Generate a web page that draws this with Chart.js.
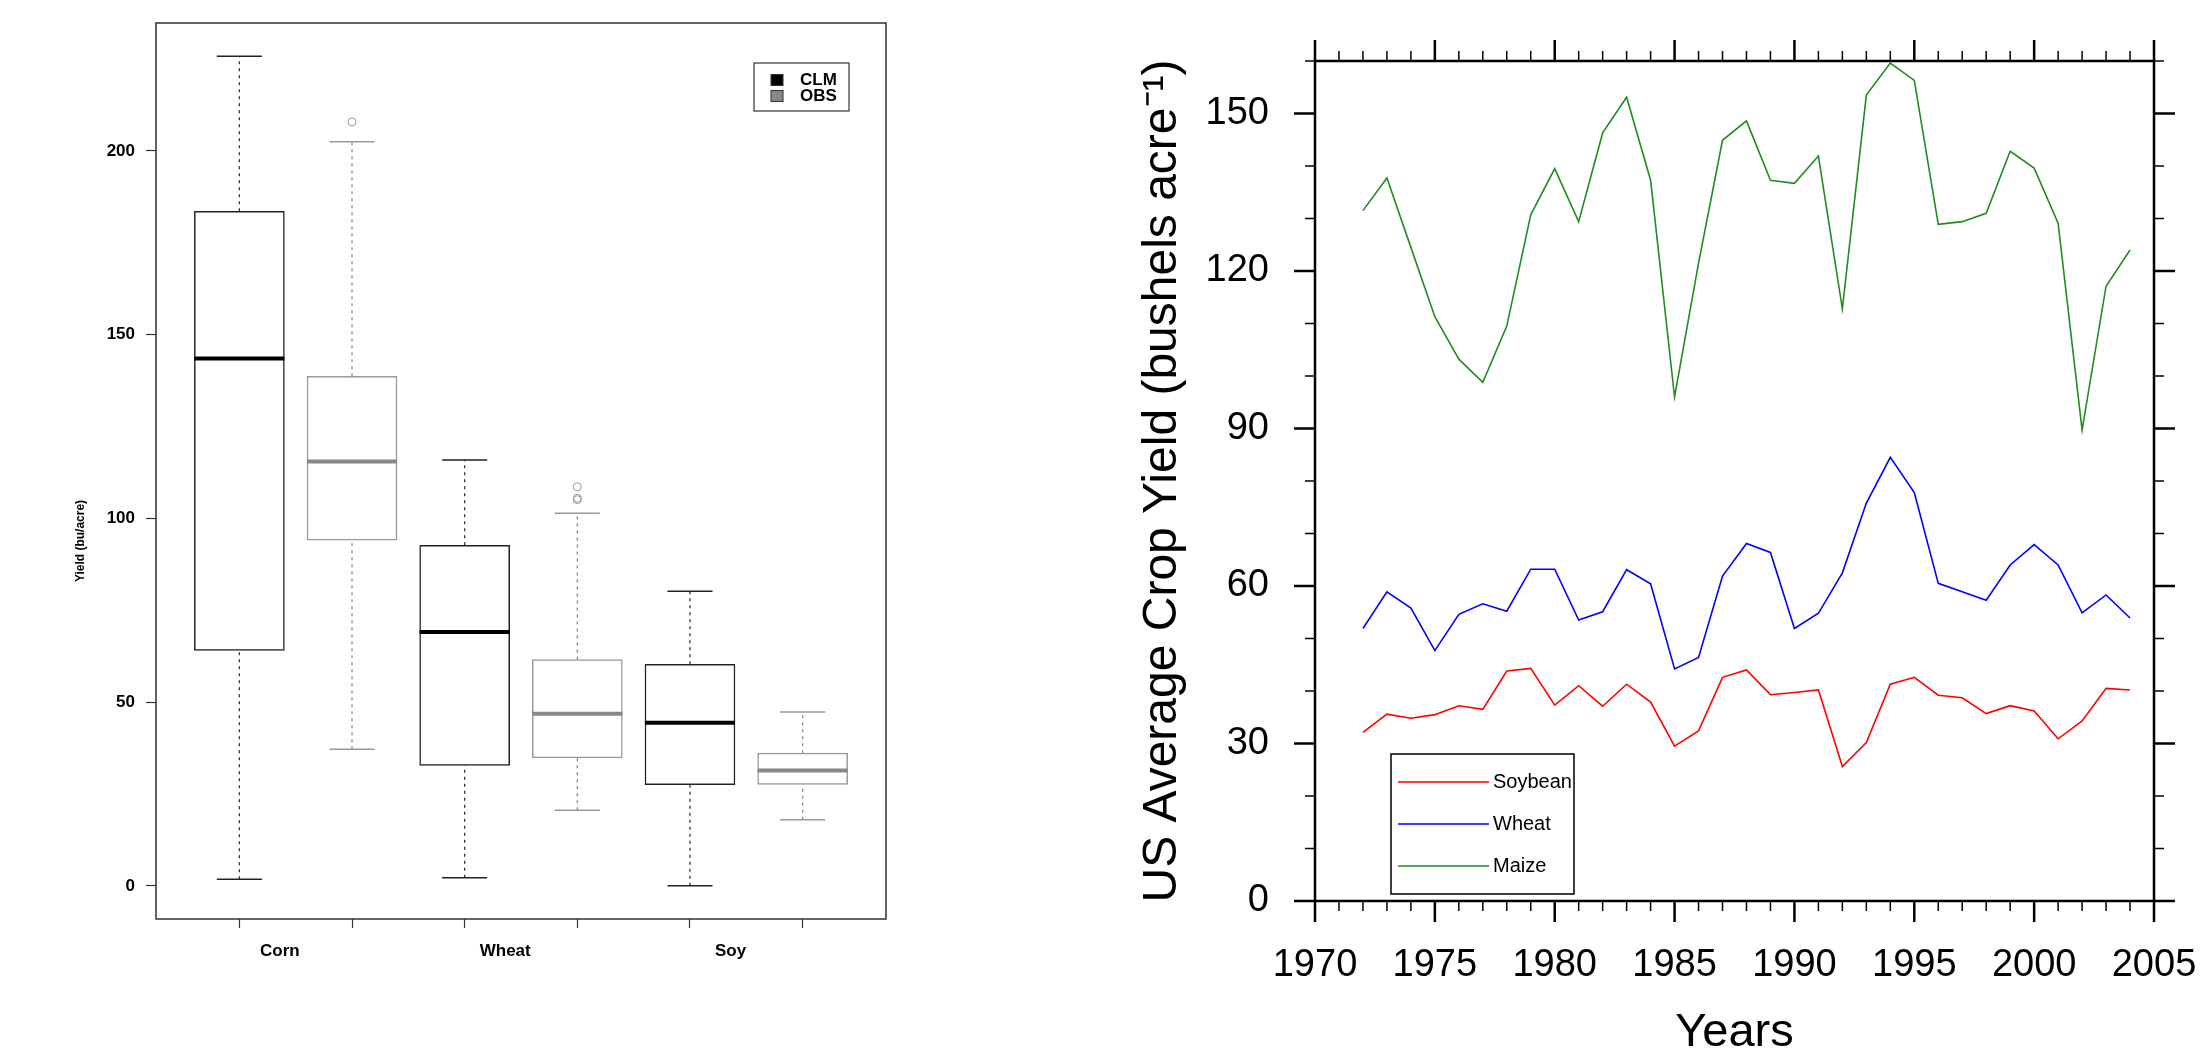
<!DOCTYPE html>
<html>
<head>
<meta charset="utf-8">
<title>Crop yield</title>
<script src="https://cdn.jsdelivr.net/npm/chart.js@4.4.1/dist/chart.umd.min.js"></script>
<style>
  html, body { margin: 0; padding: 0; background: #fff; }
  #page { position: relative; width: 2203px; height: 1053px; overflow: hidden; }
  canvas { position: absolute; top: 0; }
  #BoxChart { left: 0; }
  #LineChart { left: 1100px; }
</style>
</head>
<body>
<div id="page">
  <canvas id="BoxChart" width="1100" height="1053"></canvas>
  <canvas id="LineChart" width="1103" height="1053"></canvas>
</div>
<script>
// box plot, CLM vs OBS (bu/acre)
var crops = ["Corn", "Wheat", "Soy"];
var clmMin = [1.8, 2.2, 0.0];
var clmQ1 = [64.1, 32.8, 27.5];
var clmMedian = [143.5, 69.1, 44.4];
var clmQ3 = [183.6, 92.7, 60.3];
var clmMax = [225.8, 115.9, 80.2];
var obsMin = [37.2, 20.6, 18.0];
var obsQ1 = [94.1, 34.8, 27.6];
var obsMedian = [115.5, 46.8, 31.4];
var obsQ3 = [138.7, 61.6, 36.1];
var obsMax = [202.5, 101.4, 47.3];
var obsOutliers = [[207.9], [105.1, 105.5, 108.6], []];
var boxTicks = [0, 50, 100, 150, 200];

// US average crop yield (bushels/acre)
var years = [1972, 1973, 1974, 1975, 1976, 1977, 1978, 1979, 1980, 1981, 1982,
             1983, 1984, 1985, 1986, 1987, 1988, 1989, 1990, 1991, 1992, 1993,
             1994, 1995, 1996, 1997, 1998, 1999, 2000, 2001, 2002, 2003, 2004];
var soybean = [32.1, 35.6, 34.8, 35.5, 37.2, 36.5, 43.8, 44.3, 37.3, 41.0, 37.1,
               41.3, 37.9, 29.5, 32.4, 42.6, 44.0, 39.3, 39.7, 40.2, 25.6, 30.2,
               41.3, 42.6, 39.2, 38.7, 35.7, 37.2, 36.2, 30.9, 34.3, 40.5, 40.2];
var wheat = [51.9, 58.9, 55.8, 47.7, 54.6, 56.6, 55.2, 63.2, 63.2, 53.5, 55.1,
             63.1, 60.4, 44.2, 46.4, 61.9, 68.1, 66.4, 51.9, 54.8, 62.5, 75.8,
             84.5, 77.8, 60.5, 58.9, 57.3, 64.0, 67.9, 64.0, 54.9, 58.3, 53.9];
var maize = [131.5, 137.7, 124.5, 111.3, 103.2, 98.8, 109.5, 130.7, 139.5, 129.4, 146.3,
             153.1, 137.3, 96.0, 121.5, 144.9, 148.6, 137.3, 136.7, 141.9, 112.8, 153.5,
             159.6, 156.3, 128.9, 129.4, 131.0, 142.8, 139.6, 129.1, 89.7, 117.1, 124.0];
var yearTicks = [1970, 1975, 1980, 1985, 1990, 1995, 2000, 2005];
var yieldTicks = [0, 30, 60, 90, 120, 150];

Chart.defaults.font.family = "'Liberation Sans', Arial, Helvetica, sans-serif";
Chart.defaults.color = "#000";
Chart.defaults.animation = false;

// ---------- left: boxplot ----------
function groupX(i, k) { return 2 * i + 1 + k; }   // k: 0 = CLM, 1 = OBS
var labelAt = crops.map(function (c, i) { return groupX(i, 0) + 0.36; });

function boxes(k, lo, hi) {
  return crops.map(function (c, i) { return { x: groupX(i, k), y: [lo[i], hi[i]] }; });
}
function hSegs(k, vals, half) {
  var pts = [];
  crops.forEach(function (c, i) {
    var x = groupX(i, k);
    pts.push({ x: x - half, y: vals[i] }, { x: x + half, y: vals[i] }, { x: x, y: null });
  });
  return pts;
}
function vSegs(k, lo, hi) {
  var pts = [];
  crops.forEach(function (c, i) {
    var x = groupX(i, k);
    pts.push({ x: x, y: lo[i] }, { x: x, y: hi[i] }, { x: x, y: null });
  });
  return pts;
}
function seg(data, color, width, dash, order) {
  return { type: 'line', data: data, borderColor: color, borderWidth: width,
           borderDash: dash, pointRadius: 0, fill: false, spanGaps: false, order: order };
}

var allBox = clmMin.concat(clmMax, obsMin, obsMax, [].concat.apply([], obsOutliers));
var yLo = Math.min.apply(null, allBox), yHi = Math.max.apply(null, allBox);
var yPad = (yHi - yLo) * 0.04;

var outlierPts = [];
obsOutliers.forEach(function (list, i) {
  list.forEach(function (v) { outlierPts.push({ x: groupX(i, 1), y: v }); });
});

var boxFrame = {
  id: 'boxFrame',
  afterDraw: function (chart) {
    var ctx = chart.ctx, a = chart.chartArea;
    ctx.save();
    ctx.strokeStyle = '#333';
    ctx.lineWidth = 1.5;
    ctx.strokeRect(a.left, a.top, a.width, a.height);

    // y title
    ctx.save();
    ctx.translate(a.left - 75, a.top + a.height / 2 + 70);
    ctx.rotate(-Math.PI / 2);
    ctx.fillStyle = '#000';
    ctx.font = "bold 12px 'Liberation Sans', Arial, sans-serif";
    ctx.textAlign = 'center';
    ctx.textBaseline = 'middle';
    ctx.fillText('Yield (bu/acre)', 0, 0);
    ctx.restore();

    // legend
    var lx = a.right - 132, ly = a.top + 40;
    ctx.lineWidth = 1.2;
    ctx.strokeStyle = '#333';
    ctx.strokeRect(lx, ly, 95, 48);
    var items = [chart.data.datasets[0], chart.data.datasets[1]];
    ctx.font = "bold 17px 'Liberation Sans', Arial, sans-serif";
    ctx.textAlign = 'left';
    ctx.textBaseline = 'middle';
    items.forEach(function (ds, j) {
      var cy = ly + 17 + j * 16;
      ctx.fillStyle = ds.legendFill;
      ctx.fillRect(lx + 17, cy - 5.5, 12, 11);
      ctx.strokeStyle = '#333';
      ctx.lineWidth = 1;
      ctx.strokeRect(lx + 17, cy - 5.5, 12, 11);
      ctx.fillStyle = '#000';
      ctx.fillText(ds.label, lx + 46, cy);
    });
    ctx.restore();
  }
};

new Chart(document.getElementById('BoxChart'), {
  type: 'bar',
  data: {
    datasets: [
      { label: 'CLM', legendFill: '#000', data: boxes(0, clmQ1, clmQ3), backgroundColor: '#fff',
        borderColor: '#222', borderWidth: 1.5, borderSkipped: false, grouped: false,
        barThickness: 90, order: 10 },
      { label: 'OBS', legendFill: '#888', data: boxes(1, obsQ1, obsQ3), backgroundColor: '#fff',
        borderColor: '#999', borderWidth: 1.5, borderSkipped: false, grouped: false,
        barThickness: 90, order: 10 },
      seg(vSegs(0, clmQ3, clmMax).concat(vSegs(0, clmMin, clmQ1)), '#333', 1.3, [3, 4], 6),
      seg(vSegs(1, obsQ3, obsMax).concat(vSegs(1, obsMin, obsQ1)), '#888', 1.3, [3, 4], 6),
      seg(hSegs(0, clmMax, 0.2).concat(hSegs(0, clmMin, 0.2)), '#222', 1.5, [], 5),
      seg(hSegs(1, obsMax, 0.2).concat(hSegs(1, obsMin, 0.2)), '#999', 1.5, [], 5),
      seg(hSegs(0, clmMedian, 0.4), '#000', 4, [], 2),
      seg(hSegs(1, obsMedian, 0.4), '#888', 4, [], 2),
      { type: 'line', data: outlierPts, showLine: false, pointStyle: 'circle', pointRadius: 4,
        pointBorderColor: '#999', pointBackgroundColor: 'rgba(0,0,0,0)', pointBorderWidth: 1, order: 1 }
    ]
  },
  options: {
    responsive: false,
    devicePixelRatio: 1,
    layout: { padding: { left: 0, right: 214, top: 23, bottom: 0 } },
    scales: {
      x: {
        type: 'linear', min: 0.26, max: 6.74, offset: false,
        afterBuildTicks: function (s) {
          var v = [];
          crops.forEach(function (c, i) { v.push(groupX(i, 0), labelAt[i], groupX(i, 1)); });
          s.ticks = v.map(function (t) { return { value: t }; });
        },
        afterFit: function (s) { s.height = 134; },
        grid: {
          drawOnChartArea: false, offset: false, tickLength: 9, tickWidth: 1.2,
          tickColor: function (c) {
            return c.tick && labelAt.indexOf(c.tick.value) >= 0 ? 'rgba(0,0,0,0)' : '#333';
          }
        },
        border: { display: false },
        ticks: {
          autoSkip: false, maxRotation: 0, padding: 13,
          font: { size: 17, weight: 'bold' },
          callback: function (v) { var j = labelAt.indexOf(v); return j >= 0 ? crops[j] : ''; }
        }
      },
      y: {
        min: yLo - yPad, max: yHi + yPad,
        afterBuildTicks: function (s) { s.ticks = boxTicks.map(function (v) { return { value: v }; }); },
        afterFit: function (s) { s.width = 156; },
        grid: { drawOnChartArea: false, tickLength: 10, tickWidth: 1.2, tickColor: '#333' },
        border: { display: false },
        ticks: { padding: 11, font: { size: 17, weight: 'bold' } }
      }
    },
    plugins: { legend: { display: false }, tooltip: { enabled: false } }
  },
  plugins: [boxFrame]
});

// ---------- right: yield time series ----------
function pairs(vals) {
  return years.map(function (y, i) { return { x: y, y: vals[i] }; });
}

var ncarFrame = {
  id: 'ncarFrame',
  afterDraw: function (chart) {
    var ctx = chart.ctx, a = chart.chartArea;
    var xs = chart.scales.x, ys = chart.scales.y;
    function line(x1, y1, x2, y2) { ctx.beginPath(); ctx.moveTo(x1, y1); ctx.lineTo(x2, y2); ctx.stroke(); }
    ctx.save();
    ctx.strokeStyle = '#000';
    for (var yr = xs.min; yr <= xs.max; yr++) {
      var bigX = yearTicks.indexOf(yr) >= 0;
      var lenX = bigX ? 21 : 10;
      var px = xs.getPixelForValue(yr);
      ctx.lineWidth = bigX ? 2.5 : 1.5;
      line(px, a.bottom, px, a.bottom + lenX);
      line(px, a.top, px, a.top - lenX);
    }
    for (var v = ys.min; v <= ys.max; v += 10) {
      var bigY = yieldTicks.indexOf(v) >= 0;
      var lenY = bigY ? 21 : 10;
      var py = ys.getPixelForValue(v);
      ctx.lineWidth = bigY ? 2.5 : 1.5;
      line(a.left - lenY, py, a.left, py);
      line(a.right, py, a.right + lenY, py);
    }
    ctx.lineWidth = 2.5;
    ctx.strokeRect(a.left, a.top, a.width, a.height);

    // legend
    var lx = a.left + 76, ly = a.bottom - 147;
    ctx.lineWidth = 1.5;
    ctx.strokeRect(lx, ly, 183, 140);
    ctx.font = "20px 'Liberation Sans', Arial, sans-serif";
    ctx.textAlign = 'left';
    ctx.textBaseline = 'middle';
    chart.data.datasets.forEach(function (ds, j) {
      var cy = ly + 28 + j * 42;
      ctx.strokeStyle = ds.borderColor;
      ctx.lineWidth = 1.6;
      line(lx + 7, cy, lx + 98, cy);
      ctx.fillStyle = '#000';
      ctx.fillText(ds.label, lx + 102, cy);
    });
    ctx.restore();
  }
};

// native tick marks are kept invisible; their length only spaces the labels
var hiddenTicks = function (len) {
  return { display: true, drawOnChartArea: false, tickLength: len, tickColor: 'rgba(0,0,0,0)' };
};

new Chart(document.getElementById('LineChart'), {
  type: 'line',
  data: {
    datasets: [
      { label: 'Soybean', data: pairs(soybean), borderColor: '#ff0000' },
      { label: 'Wheat', data: pairs(wheat), borderColor: '#0000ff' },
      { label: 'Maize', data: pairs(maize), borderColor: '#228b22' }
    ]
  },
  options: {
    responsive: false,
    devicePixelRatio: 1,
    layout: { padding: { left: 0, right: 49, top: 61, bottom: 0 } },
    elements: { point: { radius: 0 }, line: { borderWidth: 1.6, tension: 0 } },
    scales: {
      x: {
        type: 'linear', min: 1970, max: 2005,
        afterBuildTicks: function (s) { s.ticks = yearTicks.map(function (v) { return { value: v }; }); },
        afterFit: function (s) { s.height = 152; },
        grid: hiddenTicks(42),
        border: { display: false },
        ticks: { autoSkip: false, maxRotation: 0, padding: 0, font: { size: 38 },
                 callback: function (v) { return String(v); } },
        title: { display: true, text: 'Years', font: { size: 47 }, padding: { top: 0, bottom: -8 } }
      },
      y: {
        min: 0, max: 160,
        afterBuildTicks: function (s) { s.ticks = yieldTicks.map(function (v) { return { value: v }; }); },
        afterFit: function (s) { s.width = 215; },
        grid: hiddenTicks(46),
        border: { display: false },
        ticks: { padding: 0, font: { size: 38 } },
        title: { display: true, text: 'US Average Crop Yield (bushels acre\u207B\u00B9)',
                 font: { size: 48 }, padding: { top: 34, bottom: 0 } }
      }
    },
    plugins: { legend: { display: false }, tooltip: { enabled: false } }
  },
  plugins: [ncarFrame]
});
</script>
</body>
</html>
